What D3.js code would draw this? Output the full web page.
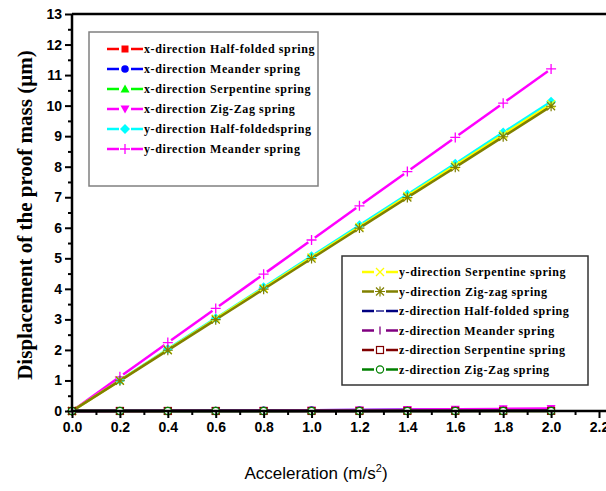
<!DOCTYPE html>
<html>
<head>
<meta charset="utf-8">
<script src="https://cdn.jsdelivr.net/npm/d3@7/dist/d3.min.js"></script>
<style>
	body { margin: 0; background: #fff; }
	svg { display: block; }
</style>
</head>
<body>
<svg id="chart" width="606" height="491"></svg>
<script>
// acceleration values (m/s^2)
var accel = [0, 0.2, 0.4, 0.6, 0.8, 1.0, 1.2, 1.4, 1.6, 1.8, 2.0]

// displacement (um)
var xHalf   = [0, 0.002, 0.004, 0.006, 0.008, 0.010, 0.012, 0.014, 0.016, 0.018, 0.020]
var xMean   = [0, 0.005, 0.010, 0.015, 0.022, 0.028, 0.034, 0.038, 0.042, 0.046, 0.050]
var xSerp   = [0, 0.001, 0.002, 0.003, 0.004, 0.005, 0.006, 0.007, 0.008, 0.009, 0.010]
var xZig    = [0, 0.003, 0.006, 0.010, 0.016, 0.024, 0.034, 0.046, 0.058, 0.070, 0.082]
var yHalf   = [0, 1.01, 2.03, 3.04, 4.05, 5.07, 6.08, 7.09, 8.10, 9.12, 10.13]
var yMean   = [0, 1.12, 2.24, 3.36, 4.48, 5.60, 6.72, 7.84, 8.96, 10.08, 11.20]
var ySerp   = [0, 1.00, 2.01, 3.02, 4.02, 5.03, 6.03, 7.04, 8.04, 9.05, 10.05]
var yZig    = [0, 0.99, 1.99, 2.99, 3.99, 4.99, 5.99, 6.99, 7.98, 8.98, 9.98]
var zHalf   = [0, 0.001, 0.001, 0.002, 0.002, 0.003, 0.003, 0.004, 0.004, 0.005, 0.005]
var zMean   = [0, 0.001, 0.002, 0.002, 0.003, 0.004, 0.004, 0.005, 0.006, 0.006, 0.007]
var zSerp   = [0, 0.001, 0.001, 0.001, 0.002, 0.002, 0.002, 0.003, 0.003, 0.003, 0.004]
var zZig    = [0, 0, 0, 0, 0, 0, 0, 0, 0, 0, 0]

var xTicks = [0, 0.2, 0.4, 0.6, 0.8, 1.0, 1.2, 1.4, 1.6, 1.8, 2.0, 2.2]
var xMinor = [0.1, 0.3, 0.5, 0.7, 0.9, 1.1, 1.3, 1.5, 1.7, 1.9, 2.1]
var yTicks = [0, 1, 2, 3, 4, 5, 6, 7, 8, 9, 10, 11, 12, 13]
var yMinor = [0.5, 1.5, 2.5, 3.5, 4.5, 5.5, 6.5, 7.5, 8.5, 9.5, 10.5, 11.5, 12.5]

var series = [
	{ name: 'x-direction Half-folded spring', color: '#ff0000', mark: 'square', vals: xHalf, leg: 0 },
	{ name: 'x-direction Meander spring', color: '#0000ff', mark: 'circle', vals: xMean, leg: 0 },
	{ name: 'x-direction Serpentine spring', color: '#00ff00', mark: 'triangle', vals: xSerp, leg: 0 },
	{ name: 'x-direction Zig-Zag spring', color: '#ff00ff', mark: 'triangledown', vals: xZig, leg: 0 },
	{ name: 'y-direction Half-foldedspring', color: '#00ffff', mark: 'diamond', vals: yHalf, leg: 0 },
	{ name: 'y-direction Meander spring', color: '#ff00ff', mark: 'plus', vals: yMean, leg: 0 },
	{ name: 'y-direction Serpentine spring', color: '#ffff00', mark: 'cross', vals: ySerp, leg: 1 },
	{ name: 'y-direction Zig-zag spring', color: '#808000', mark: 'star', vals: yZig, leg: 1 },
	{ name: 'z-direction Half-folded spring', color: '#000080', mark: 'dash', vals: zHalf, leg: 1 },
	{ name: 'z-direction Meander spring', color: '#800080', mark: 'bar', vals: zMean, leg: 1 },
	{ name: 'z-direction Serpentine spring', color: '#800000', mark: 'opensquare', vals: zSerp, leg: 1 },
	{ name: 'z-direction Zig-Zag spring', color: '#008000', mark: 'opencircle', vals: zZig, leg: 1 }
]

var svg = d3.select('#chart')

var x = d3.scaleLinear().domain([0, 2.2]).range([72, 599])
var y = d3.scaleLinear().domain([0, 13]).range([411, 14])

// draws one marker centred on 0,0 inside g
function marker(g, type, color) {
	if (type == 'square') {
		g.append('rect').attr('x', -3.5).attr('y', -3.5).attr('width', 7).attr('height', 7).attr('fill', color)
	} else if (type == 'opensquare') {
		g.append('rect').attr('x', -3.5).attr('y', -3.5).attr('width', 7).attr('height', 7)
			.attr('fill', '#fff').attr('stroke', color).attr('stroke-width', 1.2)
	} else if (type == 'circle') {
		g.append('circle').attr('r', 3.8).attr('fill', color)
	} else if (type == 'opencircle') {
		g.append('circle').attr('r', 3.6).attr('fill', '#fff').attr('stroke', color).attr('stroke-width', 1.2)
	} else if (type == 'triangle') {
		g.append('path').attr('d', 'M0,-4.5L4.5,3.5L-4.5,3.5Z').attr('fill', color)
	} else if (type == 'triangledown') {
		g.append('path').attr('d', 'M0,4.5L4.5,-3.5L-4.5,-3.5Z').attr('fill', color)
	} else if (type == 'diamond') {
		g.append('path').attr('d', 'M0,-5L5,0L0,5L-5,0Z').attr('fill', color)
	} else if (type == 'plus') {
		g.append('path').attr('d', 'M-5,0H5M0,-5V5').attr('stroke', color).attr('stroke-width', 1.3)
	} else if (type == 'cross') {
		g.append('path').attr('d', 'M-4,-4L4,4M4,-4L-4,4').attr('stroke', color).attr('stroke-width', 1.3)
	} else if (type == 'star') {
		g.append('path').attr('d', 'M-4,-4L4,4M4,-4L-4,4M-5,0H5M0,-5V5').attr('stroke', color).attr('stroke-width', 1.2)
	} else if (type == 'dash') {
		g.append('path').attr('d', 'M-4,0H4').attr('stroke', color).attr('stroke-width', 1.3)
	} else if (type == 'bar') {
		g.append('path').attr('d', 'M0,-4V4').attr('stroke', color).attr('stroke-width', 1.3)
	}
}

// lines, with a small gap around each point like Origin does
var gap = 4
var plot = svg.append('g').attr('class', 'plot')

series.forEach(function(s) {
	var pts = accel.map(function(a, i) { return [x(a), y(s.vals[i])] })
	var g = plot.append('g')
	for (var i = 0; i < pts.length - 1; i++) {
		var p = pts[i], q = pts[i + 1]
		var dx = q[0] - p[0], dy = q[1] - p[1]
		var len = Math.sqrt(dx * dx + dy * dy)
		var ux = dx / len, uy = dy / len
		g.append('line')
			.attr('x1', p[0] + ux * gap).attr('y1', p[1] + uy * gap)
			.attr('x2', q[0] - ux * gap).attr('y2', q[1] - uy * gap)
			.attr('stroke', s.color)
			.attr('stroke-width', 2.5)
	}
	pts.forEach(function(p) {
		var m = g.append('g').attr('transform', 'translate(' + p[0] + ',' + p[1] + ')')
		marker(m, s.mark, s.color)
	})
})

// axes
var xAxis = svg.append('g')
	.attr('transform', 'translate(0,411)')
	.call(d3.axisBottom(x).tickValues(xTicks).tickSize(7).tickFormat(d3.format('.1f')))
svg.append('g')
	.attr('transform', 'translate(0,411)')
	.call(d3.axisBottom(x).tickValues(xMinor).tickSize(4).tickFormat(''))
	.select('.domain').remove()

var yAxis = svg.append('g')
	.attr('transform', 'translate(72,0)')
	.call(d3.axisLeft(y).tickValues(yTicks).tickSize(7))
svg.append('g')
	.attr('transform', 'translate(72,0)')
	.call(d3.axisLeft(y).tickValues(yMinor).tickSize(4).tickFormat(''))
	.select('.domain').remove()

svg.selectAll('.domain').remove()
svg.selectAll('.tick line').attr('stroke', '#000').attr('stroke-width', 2)
svg.selectAll('.tick text')
	.style('font-family', 'Liberation Sans, Arial, sans-serif')
	.style('font-size', '14px')
	.style('font-weight', 'bold')
	.attr('fill', '#000')
xAxis.selectAll('.tick text').attr('y', 11)
yAxis.selectAll('.tick text').attr('x', -10)

// frame lines (top and left / bottom)
svg.append('line').attr('x1', 72).attr('x2', 606).attr('y1', 14).attr('y2', 14)
	.attr('stroke', '#000').attr('stroke-width', 2.5)
svg.append('line').attr('x1', 72).attr('x2', 606).attr('y1', 411).attr('y2', 411)
	.attr('stroke', '#000').attr('stroke-width', 2.5)
svg.append('line').attr('x1', 72).attr('x2', 72).attr('y1', 14).attr('y2', 411)
	.attr('stroke', '#000').attr('stroke-width', 2.5)

// axis titles
svg.append('text')
	.attr('transform', 'translate(32,215) rotate(-90)')
	.style('text-anchor', 'middle')
	.style('font-family', 'Liberation Serif, Times New Roman, serif')
	.style('font-weight', 'bold')
	.style('font-size', '21px')
	.text('Displacement of the proof mass (\u00b5m)')

var xt = svg.append('text')
	.attr('x', 316)
	.attr('y', 479)
	.style('text-anchor', 'middle')
	.style('font-family', 'Liberation Sans, Arial, sans-serif')
	.style('font-size', '17px')
xt.append('tspan').text('Acceleration (m/s')
xt.append('tspan').attr('dy', -7).style('font-size', '11px').text('2')
xt.append('tspan').attr('dy', 7).text(')')

// legends
var boxes = [
	{ x: 89, y: 32, w: 229, h: 154, lineX: 107, rowY: 49, step: 20, stroke: '#808080' },
	{ x: 342, y: 256, w: 246, h: 129, lineX: 362, rowY: 272, step: 19.5, stroke: '#333' }
]

boxes.forEach(function(b, bi) {
	svg.append('rect')
		.attr('x', b.x).attr('y', b.y)
		.attr('width', b.w).attr('height', b.h)
		.attr('fill', '#fff')
		.attr('stroke', b.stroke)
		.attr('stroke-width', 1.5)

	var items = series.filter(function(s) { return s.leg == bi })
	var row = svg.selectAll('.leg' + bi)
		.data(items)
		.enter().append('g')
		.attr('class', 'leg' + bi)
		.attr('transform', function(d, i) { return 'translate(' + b.lineX + ',' + (b.rowY + i * b.step) + ')' })

	row.append('line').attr('x1', 0).attr('x2', 12).attr('stroke', d => d.color).attr('stroke-width', 2.5)
	row.append('line').attr('x1', 24).attr('x2', 36).attr('stroke', d => d.color).attr('stroke-width', 2.5)
	row.each(function(d) {
		var m = d3.select(this).append('g').attr('transform', 'translate(18,0)')
		marker(m, d.mark, d.color)
	})
	row.append('text')
		.attr('x', 37)
		.attr('dy', '0.35em')
		.style('font-family', 'Liberation Serif, Times New Roman, serif')
		.style('font-weight', 'bold')
		.style('font-size', '12px')
		.style('letter-spacing', '0.6px')
		.text(d => d.name)
})
</script>
</body>
</html>
